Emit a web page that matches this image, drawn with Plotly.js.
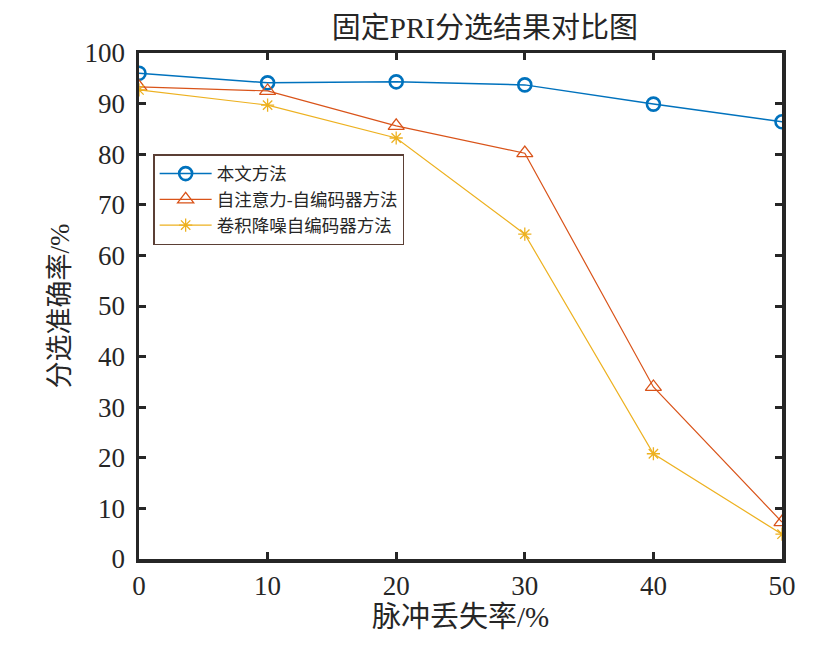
<!DOCTYPE html>
<html>
<head>
<meta charset="utf-8">
<script src="https://cdn.plot.ly/plotly-3.0.1.min.js"></script>
<style>
  html, body { margin: 0; padding: 0; background: #fff; }
  #chart { width: 831px; height: 653px; }
</style>
</head>
<body>
<div id="chart"></div>
<script>
"use strict";

// Pulse loss rate (%) on the x axis
const lossRate = [0, 10, 20, 30, 40, 50];

// Sorting accuracy (%) per method
const oursAcc = [96.0, 94.1, 94.3, 93.7, 89.9, 86.4];
const attnAeAcc = [93.3, 92.5, 85.6, 80.2, 34.0, 7.3];
const convDaeAcc = [92.7, 89.7, 83.2, 64.2, 20.8, 4.9];

const seriesNames = ["本文方法", "自注意力-自编码器方法", "卷积降噪自编码器方法"];
const xTicks = [0, 10, 20, 30, 40, 50];
const yTicks = [0, 10, 20, 30, 40, 50, 60, 70, 80, 90, 100];

const SERIF = "Liberation Serif, Times New Roman, Noto Sans CJK SC, serif";
const INK = "#262626";

const traces = [
  {
    name: seriesNames[0], x: lossRate, y: oursAcc,
    type: "scatter", mode: "lines+markers",
    line: { color: "#0072BD", width: 1.5 },
    marker: { symbol: "circle-open", size: 13, color: "#0072BD", line: { width: 2.6, color: "#0072BD" } },
  },
  {
    name: seriesNames[1], x: lossRate, y: attnAeAcc,
    type: "scatter", mode: "lines+markers",
    line: { color: "#D95319", width: 1.2 },
    marker: { symbol: "triangle-up-open", size: 14, color: "#D95319", line: { width: 1.3, color: "#D95319" } },
  },
  {
    name: seriesNames[2], x: lossRate, y: convDaeAcc,
    type: "scatter", mode: "lines+markers",
    line: { color: "#EDB120", width: 1.2 },
    marker: { symbol: "asterisk-open", size: 11, color: "#EDB120", line: { width: 1.3, color: "#EDB120" } },
  },
];

const axisBase = {
  showline: true, linecolor: INK, linewidth: 3.5, mirror: "ticks",
  ticks: "inside", ticklen: 7, tickwidth: 3, tickcolor: INK,
  showgrid: false, zeroline: false,
  tickfont: { family: SERIF, size: 27, color: INK },
};

const layout = {
  width: 831, height: 653,
  paper_bgcolor: "#fff", plot_bgcolor: "#fff",
  margin: { l: 139, r: 49, t: 53, b: 94 },
  font: { family: SERIF, color: INK },
  title: {
    text: "固定PRI分选结果对比图",
    font: { family: SERIF, size: 29, color: INK },
    x: 0.538, xanchor: "center", xref: "paper",
    y: 1 - 28 / 653, yanchor: "middle",
  },
  showlegend: true,
  legend: {
    x: 0.022, y: 0.80, xanchor: "left", yanchor: "top",
    bgcolor: "#fff", bordercolor: "#5b3f35", borderwidth: 1.5,
    font: { family: SERIF, size: 17.5, color: INK },
    itemwidth: 52,
    tracegroupgap: 0,
  },
  xaxis: {
    ...axisBase,
    range: [0, 50], tickvals: xTicks, ticktext: xTicks.map(String),
    ticklabelstandoff: 0,
    title: { text: "脉冲丢失率/%", font: { family: SERIF, size: 29, color: INK }, standoff: 0 },
  },
  yaxis: {
    ...axisBase,
    range: [0, 100], tickvals: yTicks, ticktext: yTicks.map(String),
    ticklabelstandoff: 5,
    title: { text: "分选准确率/%", font: { family: SERIF, size: 27, color: INK }, standoff: 8 },
  },
};

Plotly.newPlot("chart", traces, layout, { displayModeBar: false, staticPlot: true });
</script>
</body>
</html>
